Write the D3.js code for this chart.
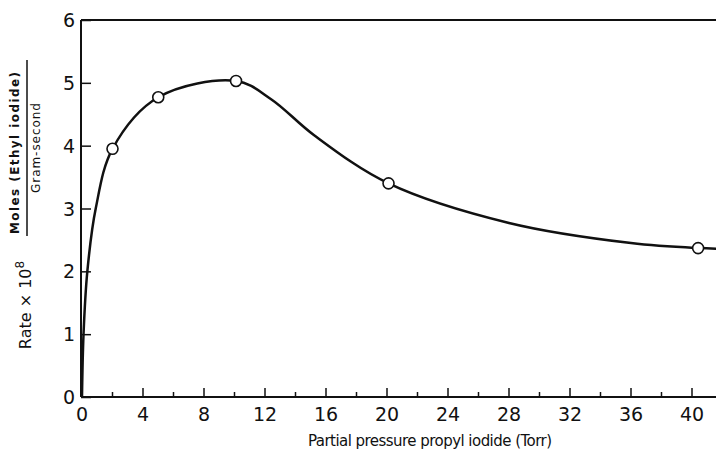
<!DOCTYPE html>
<html>
<head>
<meta charset="utf-8">
<script src="https://cdn.jsdelivr.net/npm/d3@7"></script>
<style>
  body { margin: 0; background: #fff; }
  text { font-family: "DejaVu Sans", "Liberation Sans", sans-serif; fill: #111; }
</style>
</head>
<body>
<div id="chart"></div>
<script>
// chart size
const width = 716,
      height = 450;

// measured points (partial pressure in Torr, rate x 10^8)
const pressure = [2, 5, 10.1, 20.1, 40.4];
const rate = [3.95, 4.77, 5.03, 3.40, 2.37];

// hand drawn curve
const curveP = [0, 0.1, 0.35, 0.9, 2, 5, 10.1, 12.4, 15.2, 20.1, 28, 36, 40.4, 42];
const curveR = [0, 1.0, 2.0, 3.0, 3.95, 4.77, 5.03, 4.74, 4.17, 3.40, 2.77, 2.45, 2.37, 2.36];

// axis ticks
const yTicks = [0, 1, 2, 3, 4, 5, 6];
const xMajor = [0, 4, 8, 12, 16, 20, 24, 28, 32, 36, 40];
const xMinor = [2, 6, 10, 14, 18, 22, 26, 30, 34, 38];

const svg = d3.select("#chart")
  .append("svg")
    .attr("width", width)
    .attr("height", height);

const xScale = d3.scaleLinear()
  .domain([0, (716 - 82) / 15.25])
  .range([82, 716]);

const yScale = d3.scaleLinear()
  .domain([0, 6])
  .range([397, 20]);

// frame: left axis, top rule
svg.append("line")
  .attr("x1", 81).attr("x2", 81)
  .attr("y1", yScale(0)).attr("y2", yScale(6))
  .attr("stroke", "#111").attr("stroke-width", 2);
svg.append("line")
  .attr("x1", 81).attr("x2", width)
  .attr("y1", yScale(6)).attr("y2", yScale(6))
  .attr("stroke", "#111").attr("stroke-width", 2);

// y axis, ticks pointing inside
const yAxis = svg.append("g")
  .attr("class", "y-axis")
  .attr("transform", "translate(81,0)")
  .call(d3.axisRight(yScale).tickValues(yTicks).tickSize(10).tickFormat(""));
yAxis.select(".domain").remove();
yAxis.selectAll("line").attr("stroke", "#111").attr("stroke-width", 1.5);

svg.selectAll(".ylab")
  .data(yTicks)
  .enter()
  .append("text")
    .attr("class", "ylab")
    .attr("x", 75)
    .attr("y", d => yScale(d) + 7)
    .attr("text-anchor", "end")
    .style("font-size", "19px")
    .text(d => d);

// x axis
const xAxis = svg.append("g")
  .attr("class", "x-axis")
  .attr("transform", "translate(0," + yScale(0) + ")");
xAxis.append("line")
  .attr("x1", 81).attr("x2", width)
  .attr("stroke", "#111").attr("stroke-width", 2);
xAxis.call(g => g.selectAll(".major")
  .data(xMajor.slice(1))
  .enter()
  .append("line")
    .attr("x1", d => xScale(d)).attr("x2", d => xScale(d))
    .attr("y1", 0).attr("y2", -9)
    .attr("stroke", "#111").attr("stroke-width", 1.5));
xAxis.call(g => g.selectAll(".minor")
  .data(xMinor)
  .enter()
  .append("line")
    .attr("x1", d => xScale(d)).attr("x2", d => xScale(d))
    .attr("y1", 0).attr("y2", -5)
    .attr("stroke", "#111").attr("stroke-width", 1.5));

svg.selectAll(".xlab")
  .data(xMajor)
  .enter()
  .append("text")
    .attr("class", "xlab")
    .attr("x", d => xScale(d))
    .attr("y", 421)
    .attr("text-anchor", "middle")
    .style("font-size", "19px")
    .text(d => d);

// the curve
const line = d3.line()
  .x((d, i) => xScale(curveP[i]))
  .y(d => yScale(d))
  .curve(d3.curveCatmullRom.alpha(0.5));

svg.append("path")
  .datum(curveR)
  .attr("d", line)
  .attr("fill", "none")
  .attr("stroke", "#111")
  .attr("stroke-width", 2.5);

// open circles for measured points
svg.selectAll(".pt")
  .data(rate)
  .enter()
  .append("circle")
    .attr("class", "pt")
    .attr("cx", (d, i) => xScale(pressure[i]))
    .attr("cy", d => yScale(d))
    .attr("r", 5.5)
    .attr("fill", "#fff")
    .attr("stroke", "#111")
    .attr("stroke-width", 1.6);

// x label
svg.append("text")
  .attr("x", 430)
  .attr("y", 446)
  .attr("text-anchor", "middle")
  .attr("textLength", 244)
  .style("font-size", "15px")
  .text("Partial pressure propyl iodide (Torr)");

// y label
const yl = svg.append("text")
  .attr("transform", "translate(31,305) rotate(-90)")
  .attr("text-anchor", "middle")
  .style("font-size", "16px");
yl.append("tspan").text("Rate \u00d7 10");
yl.append("tspan").attr("dy", -7).style("font-size", "12px").text("8");

svg.append("text")
  .attr("transform", "translate(19,153) rotate(-90)")
  .attr("text-anchor", "middle")
  .attr("textLength", 162)
  .style("font-size", "12px")
  .style("font-weight", "bold")
  .text("Moles (Ethyl iodide)");
svg.append("line")
  .attr("x1", 27).attr("x2", 27)
  .attr("y1", 60).attr("y2", 236)
  .attr("stroke", "#111").attr("stroke-width", 1.5);
svg.append("text")
  .attr("transform", "translate(40,148) rotate(-90)")
  .attr("text-anchor", "middle")
  .attr("textLength", 90)
  .style("font-size", "12px")
  .text("Gram-second");
</script>
</body>
</html>
